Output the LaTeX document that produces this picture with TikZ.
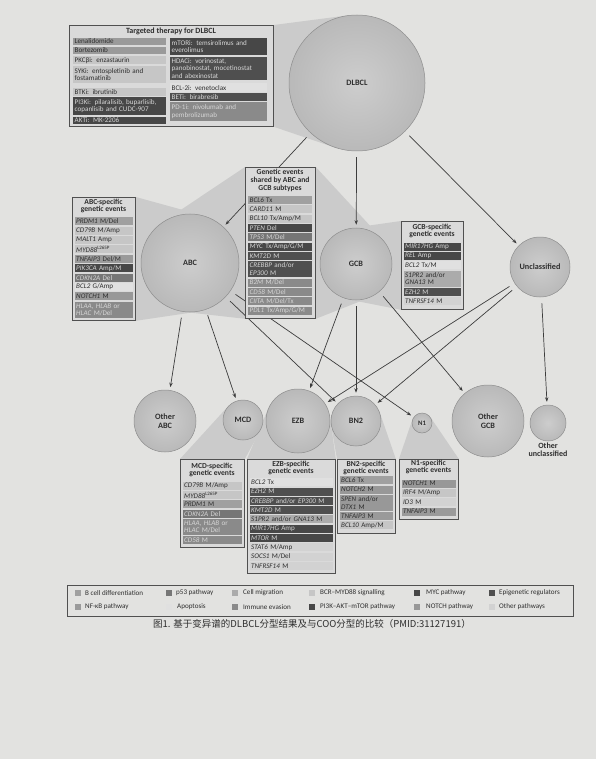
\documentclass[tikz,border=0pt]{standalone}
\usepackage{fontspec}
\setmainfont{Carlito}
\newfontfamily\cjkfont{Noto Sans CJK SC}
\usetikzlibrary{calc,arrows.meta}
\pgfdeclarelayer{wedgelayer}
\pgfdeclarelayer{linelayer}
\pgfsetlayers{wedgelayer,linelayer,main}
\definecolor{bgc}{HTML}{E2E2E0}
\definecolor{circi}{HTML}{CDCDCD}
\definecolor{circo}{HTML}{B9B9B9}
\definecolor{circd}{HTML}{8E8E8E}
\definecolor{wedgec}{HTML}{CBCBCB}
\definecolor{boxf}{HTML}{DADADA}
\definecolor{boxd}{HTML}{505050}
\definecolor{linec}{HTML}{3C3C3C}
\definecolor{tdark}{HTML}{2E2E2E}
\definecolor{tlight}{HTML}{D6D6D6}
\definecolor{cmed}{HTML}{A0A0A0}
\definecolor{cp53}{HTML}{767676}
\definecolor{cmig}{HTML}{ABABAB}
\definecolor{clight}{HTML}{C6C6C6}
\definecolor{cdark}{HTML}{474747}
\definecolor{cepi}{HTML}{4F4F4F}
\definecolor{cnfkb}{HTML}{9A9A9A}
\definecolor{cvlight}{HTML}{E0E0E0}
\definecolor{cimm}{HTML}{8A8A8A}
\definecolor{cnotch}{HTML}{989898}
\definecolor{cother}{HTML}{D2D2D2}
\newcommand\mykite[2]{%
  \fill[wedgec] (#2) -- (tangent cs:node=#1,point={(#2)},solution=1) -- (#1.center)
    -- (tangent cs:node=#1,point={(#2)},solution=2) -- cycle;}
\newcommand\mywedge[3]{\mykite{#1}{#2}\mykite{#1}{#3}\fill[wedgec] (#2) -- (#1.center) -- (#3) -- cycle;}
\tikzset{
  circ/.style={circle, draw=circd, line width=0.5pt, inner color=circi, outer color=circo,
    inner sep=0pt, font=\fontsize{8.2}{8.8}\selectfont\bfseries, text=tdark, align=center},
  conn/.style={draw=linec, line width=0.7pt, -{Stealth[length=4.5pt,width=3.4pt]},
    shorten <=6pt, shorten >=3pt},
  gbox/.style={draw=boxd, fill=boxf, line width=0.8pt, anchor=north west, inner sep=0pt},
  ttl/.style={font=\fontsize{7.6}{7.9}\selectfont\bfseries, align=center, text=tdark, inner sep=0pt},
  ent/.style={anchor=north west, inner sep=0pt, inner xsep=1.5pt, minimum height=8pt,
    align=left, font=\fontsize{7.1}{7.5}\selectfont},
  bcellc/.style={fill=cmed,text=tdark},
  p53c/.style={fill=cp53,text=tlight},
  migc/.style={fill=cmig,text=tdark},
  bcrc/.style={fill=clight,text=tdark},
  mycc/.style={fill=cdark,text=tlight},
  epic/.style={fill=cepi,text=tlight},
  nfkbc/.style={fill=cnfkb,text=tdark},
  apoc/.style={fill=cvlight,text=tdark},
  immc/.style={fill=cimm,text=tlight},
  pikc/.style={fill=cdark,text=tlight},
  notchc/.style={fill=cnotch,text=tdark},
  othc/.style={fill=cother,text=tdark},
  twoline/.style={minimum height=16pt},
  sw/.style={minimum size=6pt, inner sep=0pt},
  lgt/.style={anchor=west, inner sep=0pt, font=\fontsize{7.1}{7.5}\selectfont, text=tdark},
}
\begin{document}
\begin{tikzpicture}[x=1pt,y=-1pt]
\useasboundingbox (0,0) rectangle (596,759);
\begin{pgfonlayer}{wedgelayer}
\fill[bgc] (0,0) rectangle (596,759);
\end{pgfonlayer}

% ---------- circles ----------
\node[circ, minimum size=136pt] (dlbcl) at (357,83) {DLBCL};
\node[circ, minimum size=98pt] (abc) at (190,263) {ABC};
\node[circ, minimum size=72pt] (gcb) at (356,264) {GCB};
\node[circ, minimum size=60pt] (uncl) at (540,267) {Unclassified};
\node[circ, minimum size=62pt] (oabc) at (165,421) {Other\\ABC};
\node[circ, minimum size=40pt] (mcd) at (243,420) {MCD};
\node[circ, minimum size=64pt] (ezb) at (298,421) {EZB};
\node[circ, minimum size=50pt] (bn2) at (356,421) {BN2};
\node[circ, minimum size=20pt, font=\fontsize{6.8}{7}\selectfont\bfseries] (n1) at (422,423) {N1};
\node[circ, minimum size=72pt] (ogcb) at (488,421) {Other\\GCB};
\node[circ, minimum size=36pt] (ouncl) at (548,423) {};
\node[ttl, font=\fontsize{8}{8.2}\selectfont\bfseries] (ounclt) at (548,450) {Other\\unclassified};

% ---------- boxes ----------
\node[gbox, minimum width=204pt, minimum height=101pt] (tbox) at (69,25) {};
\node[gbox, minimum width=63pt, minimum height=123pt] (abcbox) at (72,197) {};
\node[gbox, minimum width=70pt, minimum height=151pt] (shbox) at (245,167) {};
\node[gbox, minimum width=62pt, minimum height=88pt] (gcbbox) at (401,221) {};
\node[gbox, minimum width=64pt, minimum height=88pt] (mcdbox) at (180,459) {};
\node[gbox, minimum width=88pt, minimum height=114pt] (ezbbox) at (247,459) {};
\node[gbox, minimum width=58pt, minimum height=74pt] (bn2box) at (337,459) {};
\node[gbox, minimum width=59pt, minimum height=60pt] (n1box) at (399,459) {};

% ---------- wedges ----------
\begin{pgfonlayer}{wedgelayer}
\mywedge{dlbcl}{tbox.north east}{tbox.south east}
\mywedge{abc}{abcbox.north east}{abcbox.south east}
\mywedge{abc}{shbox.north west}{shbox.south west}
\mywedge{gcb}{shbox.north east}{shbox.south east}
\mywedge{gcb}{gcbbox.north west}{gcbbox.south west}
\mywedge{mcd}{mcdbox.north west}{mcdbox.north east}
\mywedge{ezb}{ezbbox.north west}{ezbbox.north east}
\mywedge{bn2}{bn2box.north west}{bn2box.north east}
\mywedge{n1}{n1box.north west}{n1box.north east}
\end{pgfonlayer}

% ---------- connectors ----------
\begin{pgfonlayer}{linelayer}
\draw[conn] (dlbcl) -- (abc);
\draw[conn] (dlbcl) -- (gcb);
\draw[conn] (dlbcl) -- (uncl);
\draw[conn] (abc) -- (oabc);
\draw[conn] (abc) -- (mcd);
\draw[conn] (abc) -- (bn2);
\draw[conn] (abc) -- (n1);
\draw[conn] (gcb) -- (ezb);
\draw[conn] (gcb) -- (bn2);
\draw[conn] (gcb) -- (ogcb);
\draw[conn] (uncl) -- (ezb);
\draw[conn] (uncl) -- (bn2);
\draw[conn] (uncl) -- (ouncl);
\end{pgfonlayer}

% ---------- targeted therapy ----------
\node[ttl, font=\fontsize{8}{8.2}\selectfont\bfseries] (tt) at (171,31) {Targeted therapy for DLBCL};
\tikzset{tl/.style={text width=90pt}, tr/.style={text width=94pt}}
\node[ent,tl,nfkbc,minimum height=7pt] (t1) at (73,37.5) {Lenalidomide};
\node[ent,tl,nfkbc,minimum height=7.5pt] (t2) at (73,46.5) {Bortezomib};
\node[ent,tl,bcrc] (t3) at (73,56) {PKCβi: enzastaurin};
\node[ent,tl,bcrc,minimum height=17.5pt] (t4) at (73,65.5) {SYKi: entospletinib and\\fostamatinib};
\node[ent,tl,bcrc] (t5) at (73,88) {BTKi: ibrutinib};
\node[ent,tl,pikc,minimum height=18pt] (t6) at (73,97) {PI3Ki: pilaralisib, buparlisib,\\copanlisib and CUDC-907};
\node[ent,tl,pikc,minimum height=7.5pt] (t7) at (73,116.5) {AKTi: MK-2206};
\node[ent,tr,pikc,minimum height=17.5pt] (t8) at (170,37.5) {mTORi: temsirolimus and\\everolimus};
\node[ent,tr,epic,minimum height=22.5pt] (t9) at (170,57) {HDACi: vorinostat,\\panobinostat, mocetinostat\\and abexinostat};
\node[ent,tr,apoc,minimum height=9pt] (t10) at (170,83) {BCL-2i: venetoclax};
\node[ent,tr,epic] (t11) at (170,93) {BETi: birabresib};
\node[ent,tr,immc,minimum height=19pt] (t12) at (170,102) {PD-1i: nivolumab and\\pembrolizumab};

% ---------- ABC-specific ----------
\node[ttl] (abct) at (103.5,206) {ABC-specific\\genetic events};
\tikzset{wa/.style={text width=55pt}}
\node[ent,wa,bcellc] (a1) at (74.5,217) {\textit{PRDM1} M/Del};
\node[ent,wa,bcrc] (a2) at (74.5,226.4) {\textit{CD79B} M/Amp};
\node[ent,wa,bcrc] (a3) at (74.5,235.8) {\textit{MALT1} Amp};
\node[ent,wa,bcrc] (a4) at (74.5,245.2) {\textit{MYD88}\textsuperscript{L265P}};
\node[ent,wa,nfkbc] (a5) at (74.5,254.6) {\textit{TNFAIP3} Del/M};
\node[ent,wa,pikc] (a6) at (74.5,264) {\textit{PIK3CA} Amp/M};
\node[ent,wa,p53c] (a7) at (74.5,273.4) {\textit{CDKN2A} Del};
\node[ent,wa,apoc] (a8) at (74.5,282.8) {\textit{BCL2} G/Amp};
\node[ent,wa,notchc] (a9) at (74.5,292.2) {\textit{NOTCH1} M};
\node[ent,wa,immc,twoline] (a10) at (74.5,301.6) {\textit{HLAA}, \textit{HLAB} or\\\textit{HLAC} M/Del};

% ---------- shared ----------
\node[ttl] (sht) at (280,180.5) {Genetic events\\shared by ABC and\\GCB subtypes};
\tikzset{ws/.style={text width=61pt}}
\node[ent,ws,bcellc] (s1) at (248,196) {\textit{BCL6} Tx};
\node[ent,ws,bcrc] (s2) at (248,205.3) {\textit{CARD11} M};
\node[ent,ws,bcrc] (s3) at (248,214.6) {\textit{BCL10} Tx/Amp/M};
\node[ent,ws,pikc] (s4) at (248,223.9) {\textit{PTEN} Del};
\node[ent,ws,p53c] (s5) at (248,233.2) {\textit{TP53} M/Del};
\node[ent,ws,mycc] (s6) at (248,242.5) {\textit{MYC} Tx/Amp/G/M};
\node[ent,ws,epic] (s7) at (248,251.8) {\textit{KMT2D} M};
\node[ent,ws,epic,twoline] (s8) at (248,261.1) {\textit{CREBBP} and/or\\\textit{EP300} M};
\node[ent,ws,immc] (s9) at (248,278.4) {\textit{B2M} M/Del};
\node[ent,ws,immc] (s10) at (248,287.7) {\textit{CD58} M/Del};
\node[ent,ws,immc] (s11) at (248,297) {\textit{CIITA} M/Del/Tx};
\node[ent,ws,immc] (s12) at (248,306.3) {\textit{PDL1} Tx/Amp/G/M};

% ---------- GCB-specific ----------
\node[ttl] (gcbt) at (432,231) {GCB-specific\\genetic events};
\tikzset{wg/.style={text width=54pt}}
\node[ent,wg,mycc] (g1) at (403.5,242.5) {\textit{MIR17HG} Amp};
\node[ent,wg,mycc] (g2) at (403.5,251.8) {\textit{REL} Amp};
\node[ent,wg,apoc] (g3) at (403.5,261.1) {\textit{BCL2} Tx/M};
\node[ent,wg,migc,twoline] (g4) at (403.5,270.4) {\textit{S1PR2} and/or\\\textit{GNA13} M};
\node[ent,wg,epic] (g5) at (403.5,287.7) {\textit{EZH2} M};
\node[ent,wg,othc] (g6) at (403.5,297) {\textit{TNFRSF14} M};

% ---------- MCD-specific ----------
\node[ttl] (mcdt) at (212,470) {MCD-specific\\genetic events};
\tikzset{wm/.style={text width=56pt}}
\node[ent,wm,bcrc] (m1) at (182.5,481.5) {\textit{CD79B} M/Amp};
\node[ent,wm,bcrc] (m2) at (182.5,490.8) {\textit{MYD88}\textsuperscript{L265P}};
\node[ent,wm,bcellc] (m3) at (182.5,500.1) {\textit{PRDM1} M};
\node[ent,wm,p53c] (m4) at (182.5,509.4) {\textit{CDKN2A} Del};
\node[ent,wm,immc,twoline] (m5) at (182.5,518.7) {\textit{HLAA}, \textit{HLAB} or\\\textit{HLAC} M/Del};
\node[ent,wm,immc] (m6) at (182.5,536) {\textit{CD58} M};

% ---------- EZB-specific ----------
\node[ttl] (ezbt) at (291,468) {EZB-specific\\genetic events};
\tikzset{we/.style={text width=80pt}}
\node[ent,we,apoc] (e1) at (249.5,478) {\textit{BCL2} Tx};
\node[ent,we,epic] (e2) at (249.5,487.3) {\textit{EZH2} M};
\node[ent,we,epic] (e3) at (249.5,496.6) {\textit{CREBBP} and/or \textit{EP300} M};
\node[ent,we,epic] (e4) at (249.5,505.9) {\textit{KMT2D} M};
\node[ent,we,migc] (e5) at (249.5,515.2) {\textit{S1PR2} and/or \textit{GNA13} M};
\node[ent,we,mycc] (e6) at (249.5,524.5) {\textit{MIR17HG} Amp};
\node[ent,we,pikc] (e7) at (249.5,533.8) {\textit{MTOR} M};
\node[ent,we,othc] (e8) at (249.5,543.1) {\textit{STAT6} M/Amp};
\node[ent,we,othc] (e9) at (249.5,552.4) {\textit{SOCS1} M/Del};
\node[ent,we,othc] (e10) at (249.5,561.7) {\textit{TNFRSF14} M};

% ---------- BN2-specific ----------
\node[ttl] (bn2t) at (366,468) {BN2-specific\\genetic events};
\tikzset{wb/.style={text width=50pt}}
\node[ent,wb,bcellc] (b1) at (339.5,476) {\textit{BCL6} Tx};
\node[ent,wb,notchc] (b2) at (339.5,485.3) {\textit{NOTCH2} M};
\node[ent,wb,notchc,twoline] (b3) at (339.5,494.6) {\textit{SPEN} and/or\\\textit{DTX1} M};
\node[ent,wb,nfkbc] (b4) at (339.5,511.9) {\textit{TNFAIP3} M};
\node[ent,wb,bcrc] (b5) at (339.5,521.2) {\textit{BCL10} Amp/M};

% ---------- N1-specific ----------
\node[ttl] (n1t) at (428.5,467) {N1-specific\\genetic events};
\tikzset{wn/.style={text width=51pt}}
\node[ent,wn,notchc] (n11) at (401.5,479.5) {\textit{NOTCH1} M};
\node[ent,wn,bcrc] (n12) at (401.5,488.8) {\textit{IRF4} M/Amp};
\node[ent,wn,othc] (n13) at (401.5,498.1) {\textit{ID3} M};
\node[ent,wn,nfkbc] (n14) at (401.5,507.4) {\textit{TNFAIP3} M};

% ---------- legend ----------
\node[draw=boxd, line width=0.7pt, anchor=north west, minimum width=506pt, minimum height=31pt, inner sep=0pt] (leg) at (67,585) {};
\node[sw,fill=cmed] (q1) at (78,593) {};
\node[lgt] (l1) at (85,593) {B cell differentiation};
\node[sw,fill=cp53] (q2) at (169,593) {};
\node[lgt] (l2) at (176,593) {p53 pathway};
\node[sw,fill=cmig] (q3) at (235,593) {};
\node[lgt] (l3) at (243,593) {Cell migration};
\node[sw,fill=clight] (q4) at (312,593) {};
\node[lgt] (l4) at (320,593) {BCR–MYD88 signalling};
\node[sw,fill=cdark] (q5) at (417,593) {};
\node[lgt] (l5) at (426,593) {MYC pathway};
\node[sw,fill=cepi] (q6) at (492,593) {};
\node[lgt] (l6) at (499,593) {Epigenetic regulators};
\node[sw,fill=cnfkb] (q7) at (78,607) {};
\node[lgt] (l7) at (85,607) {NF-κB pathway};
\node[sw,fill=cvlight] (q8) at (169,607) {};
\node[lgt] (l8) at (177,607) {Apoptosis};
\node[sw,fill=cimm] (q9) at (235,607) {};
\node[lgt] (l9) at (243,607) {Immune evasion};
\node[sw,fill=cdark] (q10) at (312,607) {};
\node[lgt] (l10) at (320,607) {PI3K–AKT–mTOR pathway};
\node[sw,fill=cnotch] (q11) at (417,607) {};
\node[lgt] (l11) at (426,607) {NOTCH pathway};
\node[sw,fill=cother] (q12) at (492,607) {};
\node[lgt] (l12) at (499,607) {Other pathways};

% ---------- caption ----------
\node[font=\cjkfont\fontsize{9.5}{10}\selectfont, text=tdark, inner sep=0pt] (cap) at (312,624)
  {图1. 基于变异谱的DLBCL分型结果及与COO分型的比较（PMID:31127191）};
\end{tikzpicture}
\end{document}
